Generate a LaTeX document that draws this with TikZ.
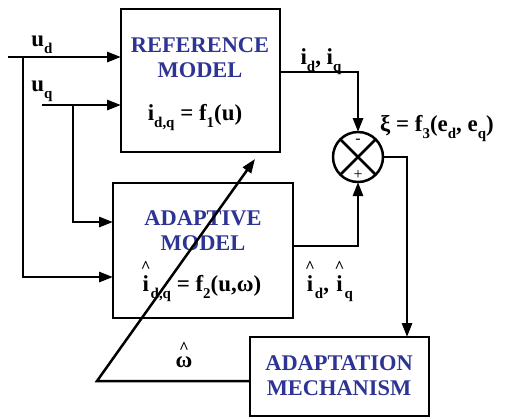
\documentclass[tikz,border=0pt]{standalone}
\usepackage{fontspec}
\setmainfont{Liberation Serif}
\usetikzlibrary{arrows.meta}
\definecolor{tblue}{RGB}{46,52,148}
\newcommand\sbs[1]{\raisebox{-0.32em}{\fontsize{15}{15}\selectfont #1}}
\newcommand\hatx[1]{\leavevmode\vbox{\offinterlineskip\halign{\hfil##\hfil\cr{\fontsize{17}{17}\selectfont\textasciicircum}\cr\noalign{\kern3bp}#1\cr}}}
\tikzset{
  blk/.style={draw, line width=2.5bp, inner sep=0pt, outer sep=0pt},
  ttl/.style={text=tblue, font=\fontsize{22.5}{24}\selectfont\bfseries, align=center, inner sep=0pt},
  lbl/.style={font=\fontsize{23}{25}\selectfont\bfseries, inner sep=0pt},
  wire/.style={line width=2.8bp},
  arr/.style={wire, -{Triangle[length=14bp,width=10bp]}},
  sgn/.style={font=\fontsize{16}{16}\selectfont, inner sep=0pt}
}
\begin{document}
\begin{tikzpicture}[x=1bp,y=-1bp]
\useasboundingbox (0,0) rectangle (509,418);
\fill[white] (0,0) rectangle (509,418);
% blocks
\node[blk, minimum width=159bp, minimum height=143bp] (ref) at (200.5,80.5) {};
\node[blk, minimum width=180bp, minimum height=135bp] (ada) at (203,250.5) {};
\node[blk, minimum width=179bp, minimum height=79bp] (mech) at (339.5,376.5) {};
\node[draw, circle, line width=2.5bp, minimum size=50bp, inner sep=0pt, outer sep=0pt] (sum) at (358,157) {};
\draw[line width=2.5bp] (sum.north west) -- (sum.south east) (sum.north east) -- (sum.south west);
\node[sgn] (minus) at (358,141) {-};
\node[sgn] (plus) at (358,175) {+};
% block texts
\node[ttl] (reft) at (200,58) {REFERENCE\\[1bp]MODEL};
\node[lbl, anchor=base] (reff) at (195,120) {i\sbs{d,q} = f\sbs{1}(u)};
\node[ttl] (adat) at (203,231) {ADAPTIVE\\[1bp]MODEL};
\node[lbl, anchor=base] (adaf) at (201,291) {\hatx{i}\sbs{d,q} = f\sbs{2}(u,ω)};
\node[ttl] (mecht) at (339,376) {ADAPTATION\\[1bp]MECHANISM};
% coordinates
\coordinate (udin) at (8,57);
\coordinate (udbr) at (23,57);
\coordinate (uqin) at (42,105);
\coordinate (uqbr) at (73,105);
\coordinate (fbk) at (97,381);
\coordinate (tip) at (255,159);
% inputs
\draw[arr] (udin) -- (udin -| ref.west);
\draw[arr] (uqin) -- (uqin -| ref.west);
\draw[arr] (udbr) |- (ada.west |- 0,277);
\draw[arr] (uqbr) |- (ada.west |- 0,222);
\node[lbl, anchor=base] (udl) at (42,46) {u\sbs{d}};
\node[lbl, anchor=base] (uql) at (42,91) {u\sbs{q}};
% outputs to sum
\draw[arr] (ref.east |- 0,72) -| (sum.north);
\draw[arr] (ada.east |- 0,246) -| (sum.south);
\node[lbl, anchor=base] (iout) at (321,64) {i\sbs{d}, i\sbs{q}};
\node[lbl, anchor=base] (ihout) at (329,291) {\hatx{i}\sbs{d}, \hatx{i}\sbs{q}};
\node[lbl, anchor=base west] (xil) at (380,131) {ξ = f\sbs{3}(e\sbs{d}, e\sbs{q})};
% sum to mechanism
\draw[arr] (sum.east) -| (mech.north -| 407,0);
% feedback
\draw[line width=2.5bp, -{Triangle[length=14bp,width=10bp]}] (mech.west |- fbk) -- (fbk) -- (tip);
\node[lbl, anchor=base] (oml) at (184,367) {\hatx{ω}};
\end{tikzpicture}
\end{document}
